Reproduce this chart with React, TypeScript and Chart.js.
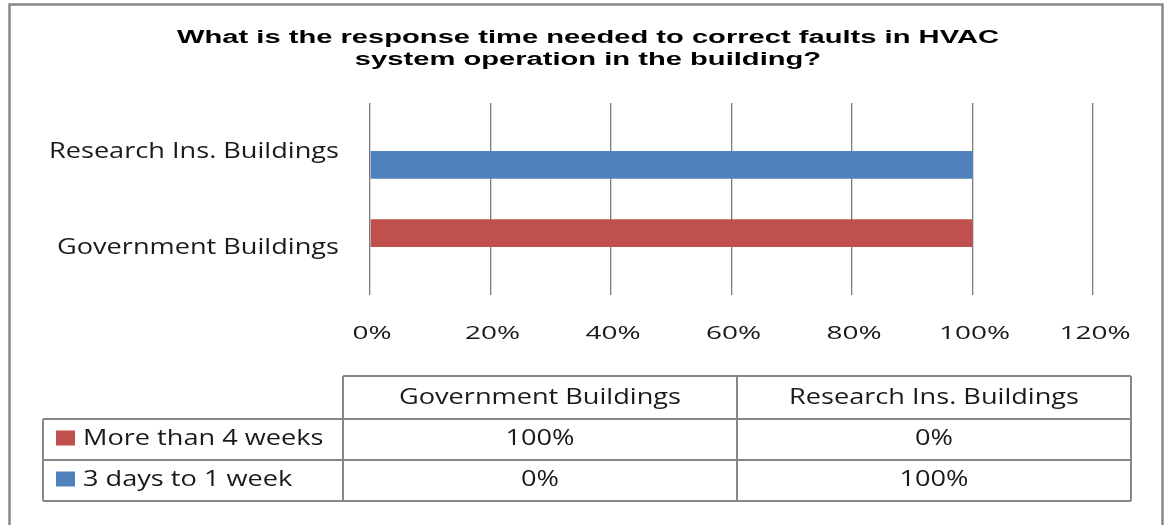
import React, { useEffect, useRef } from "react";
import { Chart, registerables } from "chart.js";

Chart.register(...registerables);

const categories = ["Government Buildings", "Research Ins. Buildings"];
const seriesNames = ["More than 4 weeks", "3 days to 1 week"];
const moreThan4Weeks = [100, 0];
const threeDaysTo1Week = [0, 100];
const xTickValues = [0, 20, 40, 60, 80, 100, 120];
const titleLines = [
  "What is the response time needed to correct faults in HVAC",
  "system operation in the building?",
];
const seriesColors = ["#C0504D", "#4F81BD"];
const seriesValues = [moreThan4Weeks, threeDaysTo1Week];

const W = 1165;
const H = 525;
const LINE = "#878787";
const TEXT = "#1a1a1a";
const LABEL_FONT = "21px 'Open Sans'";
const TICK_FONT = "18px 'Open Sans'";
const TITLE_FONT = "bold 18px 'Liberation Sans'";

function fitScale(ctx: CanvasRenderingContext2D, font: string, text: string, target: number) {
  ctx.save();
  ctx.font = font;
  const w = ctx.measureText(text).width;
  ctx.restore();
  return target / w;
}

function drawText(
  ctx: CanvasRenderingContext2D,
  text: string,
  x: number,
  y: number,
  font: string,
  sx: number,
  align: CanvasTextAlign,
  baseline: CanvasTextBaseline = "middle",
  color = TEXT
) {
  ctx.save();
  ctx.font = font;
  ctx.fillStyle = color;
  ctx.textAlign = align;
  ctx.textBaseline = baseline;
  ctx.translate(x, y);
  ctx.scale(sx, 1);
  ctx.fillText(text, 0, 0);
  ctx.restore();
}

const decorPlugin = {
  id: "decor",
  afterDraw(chart: any) {
    const ctx: CanvasRenderingContext2D = chart.ctx;
    const xs = chart.scales.x;
    const ys = chart.scales.y;

    const labelSx = fitScale(ctx, LABEL_FONT, "Government Buildings", 282);
    const tickSx = fitScale(ctx, TICK_FONT, "120%", 71);
    const titleSx = fitScale(ctx, TITLE_FONT, titleLines[0], 822);

    // outer border
    ctx.save();
    ctx.strokeStyle = LINE;
    ctx.lineWidth = 2.5;
    ctx.strokeRect(9.5, 4.5, 1153, 530);
    ctx.restore();

    // title
    drawText(ctx, titleLines[0], 588, 43, TITLE_FONT, titleSx, "center", "alphabetic", "#000");
    drawText(ctx, titleLines[1], 588, 65, TITLE_FONT, titleSx, "center", "alphabetic", "#000");

    // category labels
    categories.forEach((c, i) => {
      const y = ys.getPixelForValue(i);
      drawText(ctx, c, 339, y + 1, LABEL_FONT, labelSx, "right");
    });

    // x tick labels
    xTickValues.forEach((v) => {
      const x = xs.getPixelForValue(v);
      drawText(ctx, v + "%", x + 2, 334, TICK_FONT, tickSx, "center");
    });

    // data table
    const tL = 43, c1 = 343, c2 = 737, tR = 1131;
    const rTop = 376, r1 = 419, r2 = 460, rBot = 501;
    ctx.save();
    ctx.strokeStyle = LINE;
    ctx.lineWidth = 2;
    ctx.beginPath();
    ctx.moveTo(c1, rTop); ctx.lineTo(tR, rTop);
    ctx.moveTo(tL, r1); ctx.lineTo(tR, r1);
    ctx.moveTo(tL, r2); ctx.lineTo(tR, r2);
    ctx.moveTo(tL, rBot); ctx.lineTo(tR, rBot);
    ctx.moveTo(tL, r1); ctx.lineTo(tL, rBot);
    ctx.moveTo(c1, rTop); ctx.lineTo(c1, rBot);
    ctx.moveTo(c2, rTop); ctx.lineTo(c2, rBot);
    ctx.moveTo(tR, rTop); ctx.lineTo(tR, rBot);
    ctx.stroke();
    ctx.restore();

    const colCenters = [(c1 + c2) / 2, (c2 + tR) / 2];
    categories.forEach((c, i) => {
      drawText(ctx, c, colCenters[i], (rTop + r1) / 2 + 1, LABEL_FONT, labelSx, "center");
    });
    const rowMids = [(r1 + r2) / 2, (r2 + rBot) / 2];
    seriesNames.forEach((s, si) => {
      const y = rowMids[si];
      ctx.save();
      ctx.fillStyle = seriesColors[si];
      ctx.fillRect(56, y - 9, 19, 15);
      ctx.restore();
      drawText(ctx, s, 83, y, LABEL_FONT, labelSx, "left");
      seriesValues[si].forEach((v, ci) => {
        drawText(ctx, v + "%", colCenters[ci], y, LABEL_FONT, labelSx, "center");
      });
    });
  },
};

export default function App() {
  const ref = useRef<HTMLCanvasElement | null>(null);
  useEffect(() => {
    if (!ref.current) return;
    const chart = new Chart(ref.current, {
      type: "bar",
      data: {
        labels: categories,
        datasets: seriesNames.map((name, i) => ({
          label: name,
          data: seriesValues[i],
          backgroundColor: seriesColors[i],
          borderWidth: 0,
          categoryPercentage: 0.58,
          barPercentage: 1.0,
        })),
      },
      options: {
        indexAxis: "y",
        animation: false,
        responsive: false,
        maintainAspectRatio: false,
        layout: { padding: { left: 370, right: 72, top: 103, bottom: 230 } },
        plugins: {
          legend: { display: false },
          title: { display: false },
          tooltip: { enabled: false },
        },
        scales: {
          x: {
            min: 0,
            max: 120,
            ticks: { display: false, stepSize: 20 },
            grid: { color: "#7a7a7a", lineWidth: 1.3, drawTicks: false, tickLength: 0 },
            border: { display: false },
          },
          y: {
            reverse: true,
            ticks: { display: false },
            grid: { display: false, drawTicks: false, tickLength: 0 },
            border: { display: false },
          },
        },
      },
      plugins: [decorPlugin],
    });
    return () => chart.destroy();
  }, []);
  return (
    <div style={{ position: "fixed", left: 0, top: 0, width: W, height: H, background: "#fff" }}>
      <canvas ref={ref} width={W} height={H} style={{ width: W, height: H, display: "block" }} />
    </div>
  );
}
